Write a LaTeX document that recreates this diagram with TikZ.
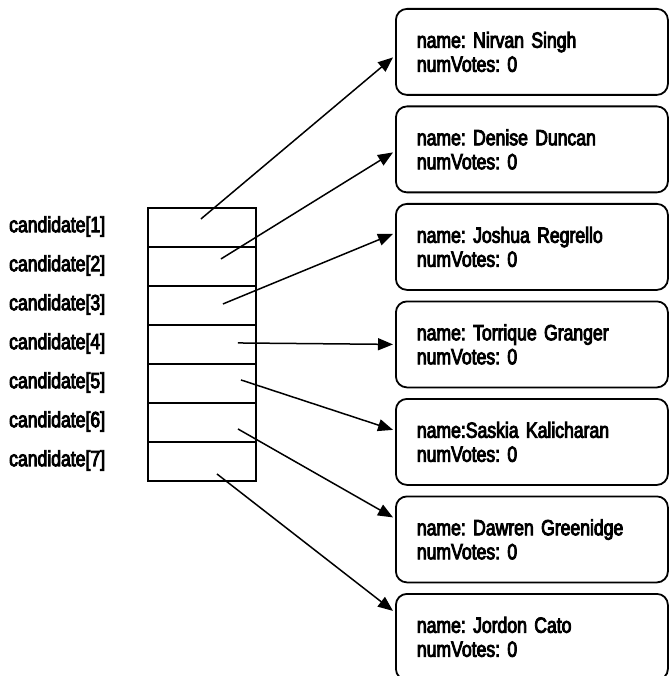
\documentclass[tikz,border=0pt]{standalone}
\usepackage{fontspec}
\setmainfont{Liberation Sans}[FakeStretch=0.8,FakeBold=4]
\usetikzlibrary{arrows.meta}
\begin{document}
\frenchspacing
\begin{tikzpicture}[x=1pt,y=-1pt,
  every node/.style={font=\fontsize{22}{24}\selectfont},
  cell/.style={draw,line width=1.9pt,minimum width=108pt,minimum height=39pt,inner sep=0pt,anchor=north west},
  lbl/.style={anchor=west,inner sep=0pt},
  rec/.style={draw,line width=1.8pt,rounded corners=11pt,minimum height=86pt,inner xsep=21pt,inner ysep=0pt,anchor=north west,align=left,text width=230pt},
  ptr/.style={line width=1.5pt,-{Triangle[length=15pt,width=12pt]}}]
\useasboundingbox (0,0) rectangle (669,676);
% array cells
\foreach \i in {1,...,7}{
  \node[cell] (c\i) at (147,{207+39*(\i-1)}) {};
  \node[lbl] (l\i) at (9,{226.5+39*(\i-1)}) {candidate[\i]};
}
% records
\node[rec] (b1) at (395,8) {name: Nirvan Singh\\numVotes: 0};
\node[rec] (b2) at (395,105.5) {name: Denise Duncan\\numVotes: 0};
\node[rec] (b3) at (395,203) {name: Joshua Regrello\\numVotes: 0};
\node[rec] (b4) at (395,300.5) {name: Torrique Granger\\numVotes: 0};
\node[rec] (b5) at (395,398) {name:Saskia Kalicharan\\numVotes: 0};
\node[rec] (b6) at (395,495.5) {name: Dawren Greenidge\\numVotes: 0};
\node[rec] (b7) at (395,593) {name: Jordon Cato\\numVotes: 0};
% start points
\coordinate (s1) at ([shift={(-1,-8.5)}]c1.center);
\coordinate (s2) at ([shift={(19,-7.5)}]c2.center);
\coordinate (s3) at ([shift={(21,-1.5)}]c3.center);
\coordinate (s4) at ([shift={(36,-1.5)}]c4.center);
\coordinate (s5) at ([shift={(39,-3.5)}]c5.center);
\coordinate (s6) at ([shift={(36,6.5)}]c6.center);
\coordinate (s7) at ([shift={(15,12.5)}]c7.center);
\draw[ptr] (s1) -- ([shift={(-2,5.5)}]b1.west);
\draw[ptr] (s2) -- ([shift={(-2,3)}]b2.west);
\draw[ptr] (s3) -- ([shift={(-2,-13)}]b3.west);
\draw[ptr] (s4) -- ([shift={(-2,0)}]b4.west);
\draw[ptr] (s5) -- ([shift={(-2,-12)}]b5.west);
\draw[ptr] (s6) -- ([shift={(-2,-22)}]b6.west);
\draw[ptr] (s7) -- ([shift={(-2,-26)}]b7.west);
\end{tikzpicture}
\end{document}
